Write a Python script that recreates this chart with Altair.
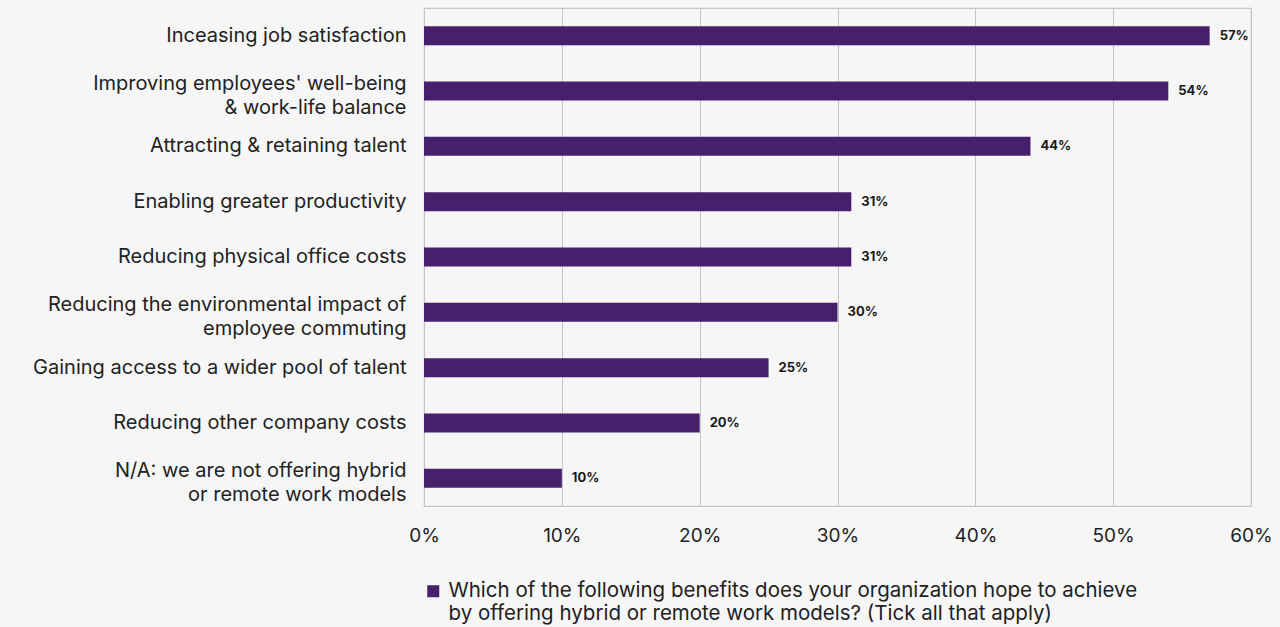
import altair as alt
import pandas as pd

benefits = [
    "Inceasing job satisfaction",
    "Improving employees' well-being|& work-life balance",
    "Attracting & retaining talent",
    "Enabling greater productivity",
    "Reducing physical office costs",
    "Reducing the environmental impact of|employee commuting",
    "Gaining access to a wider pool of talent",
    "Reducing other company costs",
    "N/A: we are not offering hybrid|or remote work models",
]
shares = [57, 54, 44, 31, 31, 30, 25, 20, 10]
question = ("Which of the following benefits does your organization hope to achieve|"
            "by offering hybrid or remote work models? (Tick all that apply)")
x_ticks = [0, 10, 20, 30, 40, 50, 60]

PURPLE = "#46206b"
FONT = "Inter"
TEXT = "#222222"

df = pd.DataFrame({
    "benefit": benefits,
    "share": [v / 100 for v in shares],
    "label": [f"{v}%" for v in shares],
    "series": [question] * len(benefits),
})

y_enc = alt.Y(
    "benefit:N",
    sort=None,
    scale=alt.Scale(paddingInner=0.655, paddingOuter=0.3275),
    axis=alt.Axis(
        title=None,
        domain=False,
        ticks=False,
        labelExpr="split(datum.label, '|')",
        # two-line labels are lifted so the pair sits around the bar
        labelOffset=alt.ExprRef("indexof(datum.value, '|') >= 0 ? -7 : 0"),
        labelFont=FONT,
        labelFontSize=20,
        labelColor=TEXT,
        labelPadding=18,
        labelLimit=500,
        labelLineHeight=24,
    ),
)

bars = alt.Chart(df).mark_bar(size=19).encode(
    y=y_enc,
    x=alt.X(
        "share:Q",
        scale=alt.Scale(domain=[0, 0.6], nice=False),
        axis=alt.Axis(
            title=None,
            values=[t / 100 for t in x_ticks],
            format=".0%",
            domain=False,
            ticks=False,
            grid=True,
            gridColor="#c4c4c4",
            gridWidth=1,
            labelFont=FONT,
            labelFontSize=19,
            labelColor=TEXT,
            labelPadding=20,
            labelFlush=False,
        ),
    ),
    color=alt.Color(
        "series:N",
        scale=alt.Scale(range=[PURPLE]),
        legend=alt.Legend(
            title=None,
            orient="none",
            legendX=-1,
            legendY=573,
            padding=0,
            symbolType="square",
            symbolSize=144,
            symbolStrokeWidth=0,
            symbolOffset=0,
            labelExpr="split(datum.label, '|')",
            labelFont=FONT,
            labelFontSize=20.5,
            labelColor=TEXT,
            labelLimit=1000,
            labelOffset=5,
        ),
    ),
)

values = alt.Chart(df).mark_text(
    align="left", baseline="middle", dx=10, font=FONT, fontSize=13,
    fontWeight="bold", color="#1a1a1a",
).encode(
    y=alt.Y("benefit:N", sort=None),
    x="share:Q",
    text="label:N",
)

chart = (
    alt.layer(bars, values)
    .properties(
        width=827,
        height=498,
        background="#f6f6f6",
        padding={"left": 424, "top": 8, "right": 29, "bottom": 121},
        autosize=alt.AutoSizeParams(type="none"),
    )
    .configure_view(stroke="#c6c6c6", strokeWidth=1.2)
)

chart.save("out.html", embed_options={"renderer": "svg", "actions": False})
